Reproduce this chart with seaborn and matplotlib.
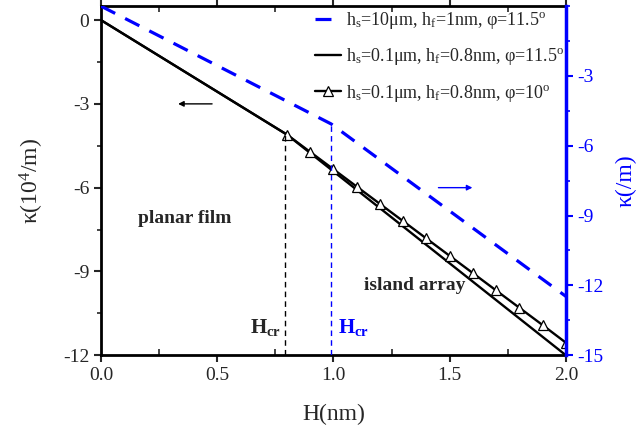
import matplotlib
matplotlib.use("Agg")
import matplotlib.pyplot as plt
import seaborn as sns
import pandas as pd
from matplotlib.ticker import MultipleLocator
from matplotlib.lines import Line2D

# ---- data ----
h_solid = [0.0, 0.8, 2.0]
k_solid = [0.0, -4.1, -12.0]          # 10^4/m, left axis

h_tri = [0.0, 0.8, 0.9, 1.0, 1.1, 1.2, 1.3, 1.4, 1.5, 1.6, 1.7, 1.8, 1.9, 2.0]
k_tri = [0.0, -4.10, -4.72, -5.34, -5.96, -6.58, -7.20, -7.82, -8.44,
         -9.06, -9.68, -10.30, -10.92, -11.55]

h_blue = [0.0, 0.99, 2.0]
k_blue = [0.0, -5.06, -12.47]         # /m, right axis

hcr_black = 0.79
hcr_black_k = -4.1
hcr_blue = 0.99
hcr_blue_k = -5.06

lab_blue = r"h$_{\rm s}$=10μm, h$_{\rm f}$=1nm, φ=11.5$^{\rm o}$"
lab_solid = r"h$_{\rm s}$=0.1μm, h$_{\rm f}$=0.8nm, φ=11.5$^{\rm o}$"
lab_tri = r"h$_{\rm s}$=0.1μm, h$_{\rm f}$=0.8nm, φ=10$^{\rm o}$"

xticks = [0.0, 0.5, 1.0, 1.5, 2.0]
lticks = [0, -3, -6, -9, -12]
rticks = [-3, -6, -9, -12, -15]

sns.set_style("ticks")
plt.rcParams["font.family"] = ["Liberation Serif", "DejaVu Serif"]
plt.rcParams["mathtext.fontset"] = "custom"
plt.rcParams["mathtext.rm"] = "Liberation Serif"
plt.rcParams["mathtext.it"] = "Liberation Serif:italic"
plt.rcParams["mathtext.bf"] = "Liberation Serif:bold"

BLUE = "#0000ff"
fig = plt.figure(figsize=(6.43, 4.38), dpi=100)
ax = fig.add_axes([0.157, 0.189, 0.723, 0.797])
ax2 = ax.twinx()

df_s = pd.DataFrame({"H": h_solid, "k": k_solid})
df_t = pd.DataFrame({"H": h_tri, "k": k_tri})
df_b = pd.DataFrame({"H": h_blue, "k": k_blue})

sns.lineplot(data=df_s, x="H", y="k", ax=ax, color="black", lw=1.7, legend=False)
sns.lineplot(data=df_t, x="H", y="k", ax=ax, color="black", lw=1.7, marker="^",
             markersize=7, markerfacecolor="white", markeredgecolor="black",
             markeredgewidth=0.9, markevery=list(range(1, len(h_tri))), legend=False)
sns.lineplot(data=df_b, x="H", y="k", ax=ax2, color=BLUE, lw=2.3, legend=False)
ax2.lines[0].set_dashes([5, 3.5])

# critical thickness markers
ax.plot([hcr_black, hcr_black], [-12, hcr_black_k], color="black", lw=1.0, ls=(0, (4, 3)))
ax2.plot([hcr_blue, hcr_blue], [-15, hcr_blue_k], color=BLUE, lw=1.0, ls=(0, (4, 3)))

ax.set_xlim(0, 2.0)
ax.set_ylim(-12, 0.5)
ax2.set_ylim(-15, 0)

ax.set_xticks(xticks)
ax.set_xticklabels([f"{v:.1f}" for v in xticks])
ax.set_yticks(lticks)
ax.set_yticklabels([str(v) for v in lticks])
ax2.set_yticks(rticks)
ax2.set_yticklabels([str(v) for v in rticks])
ax.xaxis.set_minor_locator(MultipleLocator(0.25))
ax.yaxis.set_minor_locator(MultipleLocator(1.5))
ax2.yaxis.set_minor_locator(MultipleLocator(1.5))

ax.tick_params(axis="both", which="major", direction="out", length=5, width=1.5, labelsize=14)
ax.tick_params(axis="x", which="minor", direction="in", length=4, width=1.2, top=True)
ax.tick_params(axis="x", which="major", top=True)
ax.tick_params(axis="y", which="minor", direction="out", length=3, width=1.2)
ax.tick_params(axis="y", right=False, which="both")
ax2.tick_params(axis="y", which="major", direction="out", length=5, width=1.5, colors=BLUE, labelsize=14)
ax2.tick_params(axis="y", which="minor", direction="out", length=3, width=1.2, colors=BLUE)

for s in ["left", "bottom", "top"]:
    ax.spines[s].set_linewidth(2)
    ax.spines[s].set_color("black")
ax.spines["right"].set_visible(False)
for s in ["left", "bottom", "top"]:
    ax2.spines[s].set_visible(False)
ax2.spines["right"].set_linewidth(2.5)
ax2.spines["right"].set_color(BLUE)

ax.set_xlabel("H(nm)", fontsize=17, labelpad=14)
ax.set_ylabel(r"κ(10$^4$/m)", fontsize=17, labelpad=12)
ax2.set_ylabel("κ(/m)", fontsize=17, color=BLUE, labelpad=8)

# annotations
ax.text(0.16, -7.1, "planar film", fontsize=14, fontweight="bold", ha="left", va="center")
ax.text(1.13, -9.5, "island array", fontsize=14, fontweight="bold", ha="left", va="center")
ax.text(0.64, -11.0, r"H$_{\mathbf{cr}}$", fontsize=15, fontweight="bold", ha="left", va="center")
ax.text(1.02, -11.0, r"H$_{\mathbf{cr}}$", fontsize=15, fontweight="bold", color=BLUE, ha="left", va="center")
ax.annotate("", xy=(0.32, -3.0), xytext=(0.49, -3.0),
            arrowprops=dict(arrowstyle="-|>", color="black", lw=1.0, mutation_scale=8))
ax.annotate("", xy=(1.61, -6.0), xytext=(1.44, -6.0),
            arrowprops=dict(arrowstyle="-|>", color=BLUE, lw=1.0, mutation_scale=8))

handles = [
    Line2D([], [], color=BLUE, lw=2.3, dashes=[5, 3.5]),
    Line2D([], [], color="black", lw=1.7),
    Line2D([], [], color="black", lw=1.7, marker="^", markersize=7,
           markerfacecolor="white", markeredgecolor="black", markeredgewidth=0.9),
]
labels = [lab_blue, lab_solid, lab_tri]
leg = ax.legend(handles, labels, loc="upper right", bbox_to_anchor=(1.02, 1.02),
                frameon=False, fontsize=13, handlelength=1.4, handletextpad=0.3,
                labelspacing=0.85, borderaxespad=0.2, numpoints=1)

fig.savefig("out.png", dpi=100)
